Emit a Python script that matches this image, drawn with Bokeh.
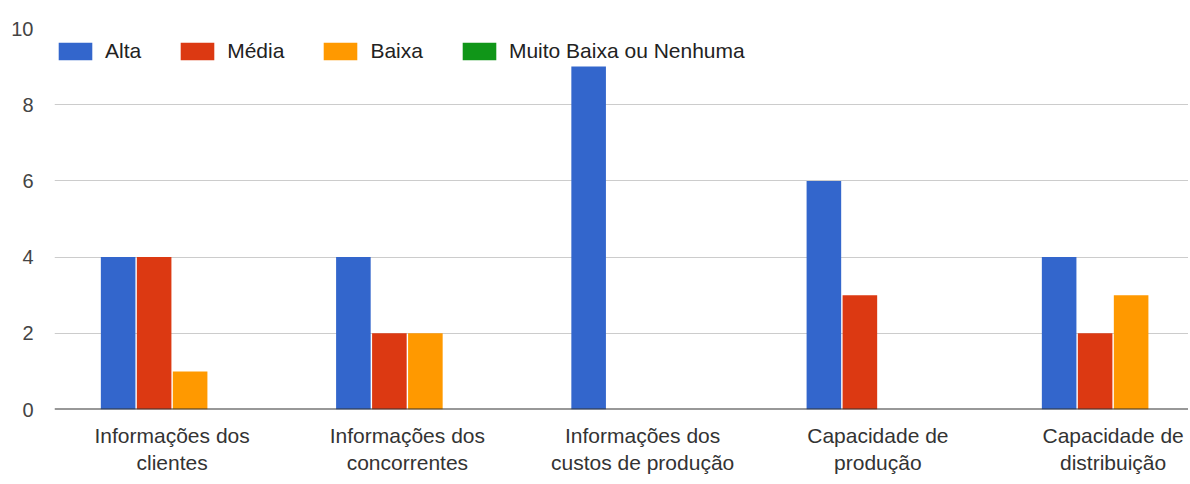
from bokeh.plotting import figure
from bokeh.models import ColumnDataSource, FixedTicker, Range1d, Legend, LegendItem, Span
from bokeh.embed import file_html
from bokeh.resources import INLINE

categories = ["Informações dos\nclientes", "Informações dos\nconcorrentes",
              "Informações dos\ncustos de produção", "Capacidade de\nprodução",
              "Capacidade de\ndistribuição"]
series_names = ["Alta", "Média", "Baixa", "Muito Baixa ou Nenhuma"]
alta = [4, 4, 9, 6, 4]
media = [4, 2, 0, 3, 2]
baixa = [1, 2, 0, 0, 3]
muito_baixa = [0, 0, 0, 0, 0]
y_ticks = [0, 2, 4, 6, 8, 10]

colors = ["#3366cc", "#dc3912", "#ff9900", "#109618"]
series = [alta, media, baixa, muito_baixa]

FONT = "Liberation Sans"
FW, FH = 1134, 381
left, top = 54, 28
px_per_cat = 235.25

p = figure(frame_width=FW, frame_height=FH, output_backend="svg", toolbar_location=None,
           x_range=Range1d(0, FW / px_per_cat), y_range=Range1d(0, 10),
           min_border_left=left, min_border_right=0, min_border_top=top,
           min_border_bottom=0)
p.outline_line_color = None
p.background_fill_color = "white"
p.border_fill_color = "white"

centers = [i + 0.5 for i in range(len(categories))]
step = 0.153
offsets = [-1.5 * step, -0.5 * step, 0.5 * step, 1.5 * step]
renderers = []
for s, vals, col, off in zip(series_names, series, colors, offsets):
    src = ColumnDataSource(dict(x=[c + off for c in centers], top=vals))
    r = p.vbar(x="x", top="top", bottom=0, width=step - 0.006, source=src,
               fill_color=col, line_color=None)
    renderers.append(r)

# axes
p.xaxis.ticker = FixedTicker(ticks=centers)
p.xaxis.major_label_overrides = {c: lab for c, lab in zip(centers, categories)}
p.xaxis.major_tick_line_color = None
p.xaxis.major_tick_out = 0
p.xaxis.major_tick_in = 0
p.xaxis.minor_tick_line_color = None
p.xaxis.axis_line_color = None
p.xaxis.major_label_text_font = FONT
p.xaxis.major_label_text_font_size = "21px"
p.xaxis.major_label_text_color = "#333333"
p.xaxis.major_label_standoff = 14

p.yaxis.ticker = FixedTicker(ticks=y_ticks)
p.yaxis.major_tick_line_color = None
p.yaxis.major_tick_out = 0
p.yaxis.major_tick_in = 0
p.yaxis.minor_tick_line_color = None
p.yaxis.axis_line_color = None
p.yaxis.major_label_text_font = FONT
p.yaxis.major_label_text_font_size = "20px"
p.yaxis.major_label_text_color = "#444444"
p.yaxis.major_label_standoff = 21

p.xgrid.grid_line_color = None
p.ygrid.grid_line_color = "#cccccc"
p.ygrid.grid_line_width = 1
p.ygrid.ticker = FixedTicker(ticks=y_ticks)

base = Span(location=0, dimension="width", line_color="#333333", line_width=2)
p.add_layout(base)

legend = Legend(items=[LegendItem(label=s, renderers=[r]) for s, r in zip(series_names, renderers)],
                orientation="horizontal", location=(0, FH - 13 - 22))
legend.label_text_font = FONT
legend.label_text_font_size = "21px"
legend.label_text_color = "#222222"
legend.glyph_width = 42
legend.glyph_height = 22
legend.label_height = 22
legend.label_standoff = 9
legend.spacing = 35
legend.padding = 0
legend.margin = 0
legend.border_line_color = None
legend.background_fill_alpha = 0
p.add_layout(legend)

html = file_html(p, INLINE)
open("out.html", "w").write(html)
